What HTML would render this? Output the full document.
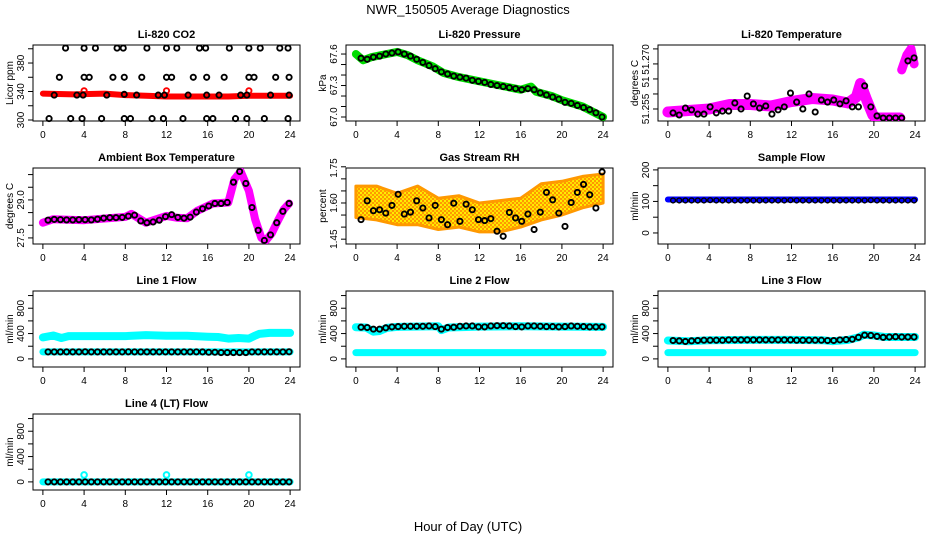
<!DOCTYPE html>
<html><head><meta charset="utf-8"><style>
html,body{margin:0;padding:0;background:#fff;}
svg{display:block;font-family:"Liberation Sans",sans-serif;}
</style></head><body>
<svg id="chart" width="936" height="540" viewBox="0 0 936 540">
<defs>
<pattern id="rhpat" width="4" height="4" patternUnits="userSpaceOnUse">
<rect width="4" height="4" fill="#ff9900"/><rect width="2" height="2" fill="#ffee00"/><rect x="2" y="2" width="2" height="2" fill="#ffdd00"/>
</pattern>
</defs>
<text x="468" y="14" text-anchor="middle" font-size="13">NWR_150505  Average Diagnostics</text>
<text x="468" y="531" text-anchor="middle" font-size="13">Hour of Day (UTC)</text>
</svg>
<script>
const xTicks=[0,4,8,12,16,20,24];
const circleHours=[0.5,1.1,1.7,2.3,2.9,3.5,4.1,4.7,5.3,5.9,6.5,7.1,7.7,8.3,8.9,9.5,10.1,10.7,11.3,11.9,12.5,13.1,13.7,14.3,14.9,15.5,16.1,16.7,17.3,17.9,18.5,19.1,19.7,20.3,20.9,21.5,22.1,22.7,23.3,23.9];

const co2BandHours=[0,3,6,8,10,12,15,18,20,24];
const co2BandValues=[337,336,337,335,334,333,333,333,334,334];
const co2Hours=[2.2,4,5.1,7.2,7.8,10.1,12,13,15.2,15.8,18.1,20,21.1,23,23.8,1.6,4,4.5,6.8,7.9,9.6,12,12.5,14.6,15.9,17.6,20,20.5,22.6,23.9,0.6,2.7,3.8,5.7,7.9,8.5,10.6,11.7,13.6,15.9,16.5,18.7,19.8,21.5,23.8,1.1,3.3,3.9,6.2,7.9,9.1,11.2,11.8,14.1,15.9,17.1,19.2,19.8,22.1,23.9];
const co2Values=[401,401,401,401,401,401,401,401,401,401,401,401,401,401,401,360,360,360,360,360,360,360,360,360,360,360,360,360,360,360,302,302,302,302,302,302,302,302,302,302,302,302,302,302,302,335,335,335,335,336,335,335,335,335,335,335,335,335,335,335];
const co2RedHours=[4,12,20];
const co2RedValues=[341,341,341];

const pressureBandHours=[0,0.7,1.5,3,4,5,6,7.5,8.5,10,12,14,16,17,17.5,19,20,22,24];
const pressureBandValues=[67.60,67.54,67.57,67.60,67.62,67.59,67.54,67.48,67.42,67.38,67.34,67.30,67.26,67.29,67.24,67.20,67.16,67.10,67.00];
const pressureCircles=[67.56,67.55,67.57,67.58,67.60,67.61,67.62,67.60,67.58,67.55,67.52,67.49,67.46,67.43,67.41,67.39,67.38,67.37,67.35,67.34,67.33,67.31,67.30,67.29,67.28,67.27,67.26,67.27,67.26,67.23,67.21,67.19,67.17,67.14,67.13,67.11,67.09,67.07,67.04,67.00];

const licorTempBandHours=[0,2,4,6,8,10,12,14,16,17.5,18.3,18.7,19.3,19.9,20.2,22.5];
const licorTempBandValues=[51.249,51.2495,51.250,51.2515,51.2515,51.251,51.2525,51.2535,51.253,51.252,51.254,51.2585,51.253,51.248,51.247,51.247];
const licorTempLateHours=[22.7,23.2,23.6,23.9];
const licorTempLateValues=[51.263,51.268,51.270,51.265];
const licorTempCircles=[51.2487,51.2480,51.2503,51.2497,51.2483,51.2483,51.2507,51.2487,51.2493,51.2493,51.2520,51.2500,51.2543,51.2517,51.2503,51.2510,51.2483,51.2497,51.2507,51.2553,51.2523,51.2500,51.2550,51.2490,51.2530,51.2523,51.2530,51.2517,51.2527,51.2507,51.2507,51.2577,51.2507,51.2477,51.2470,51.2470,51.2470,51.2470,51.2660,51.2670];

const ambientBandHours=[0,1,4,8,8.6,10,12,13,14,15,16.5,18,18.6,19.2,20,20.6,21.2,21.6,22.2,22.8,23.4,23.9];
const ambientBandValues=[28.10,28.24,28.20,28.33,28.45,28.10,28.37,28.30,28.28,28.57,28.86,28.90,29.82,30.12,29.36,28.24,27.51,27.38,27.67,28.17,28.63,28.86];
const ambientCircles=[28.20,28.23,28.22,28.21,28.21,28.22,28.22,28.21,28.24,28.28,28.30,28.30,28.31,28.36,28.40,28.17,28.10,28.13,28.20,28.34,28.42,28.31,28.28,28.32,28.52,28.65,28.76,28.86,28.86,28.90,29.70,30.12,29.65,28.70,27.80,27.40,27.62,28.10,28.55,28.86];

const rhBandHours=[0,2,4,6,8,10,12,14,16,18,20,22,24];
const rhUpper=[1.67,1.67,1.64,1.67,1.62,1.63,1.60,1.61,1.62,1.68,1.69,1.71,1.72];
const rhLower=[1.54,1.53,1.51,1.51,1.49,1.50,1.48,1.48,1.50,1.53,1.55,1.58,1.60];
const rhCircles=[1.531,1.609,1.568,1.572,1.558,1.590,1.636,1.554,1.562,1.609,1.579,1.538,1.590,1.531,1.510,1.599,1.524,1.595,1.572,1.531,1.527,1.535,1.483,1.462,1.561,1.538,1.524,1.554,1.490,1.562,1.644,1.613,1.558,1.503,1.602,1.644,1.677,1.634,1.579,1.729];

const sampleBandHours=[0,24];
const sampleBandValues=[106,106];
const sampleCircles=[103,103,103,103,103,103,104,103,103,103,103,103,103,103,103,103,103,103,103,104,103,103,103,103,103,103,103,103,103,103,103,103,104,103,103,103,103,103,103,103];

const line1CyanHours=[0,1,1.8,2.5,4,8,10,12,14,16,17,18,19,20,20.5,21,22,24];
const line1CyanValues=[340,370,330,360,360,360,375,365,365,350,345,320,330,320,360,395,410,410];
const line1CyanLowHours=[0,24];
const line1CyanLowValues=[110,110];
const line1Circles=[110,110,110,110,110,110,112,110,110,110,110,110,110,112,110,110,110,110,110,110,110,110,110,110,110,110,105,105,100,100,100,100,100,110,110,110,110,110,110,112];

const line2CyanHours=[0,1,1.7,2.3,3,4,8,8.3,9,12,16,20,24];
const line2CyanValues=[500,495,430,440,490,505,515,455,495,510,515,510,505];
const line2CyanLowHours=[0,24];
const line2CyanLowValues=[100,100];
const line2Circles=[500,495,470,470,490,505,510,515,515,515,515,520,510,470,495,500,515,520,520,505,505,520,525,525,520,510,505,520,520,515,510,510,505,510,520,515,510,505,505,505];

const line3CyanHours=[0,2,4,8,12,15,16,17.5,18.5,19,20,21,24];
const line3CyanValues=[290,280,295,300,300,295,280,300,340,380,370,345,345];
const line3CyanLowHours=[0,24];
const line3CyanLowValues=[100,100];
const line3Circles=[290,285,275,285,290,295,295,295,295,300,300,300,300,300,300,300,300,300,300,300,295,295,295,295,295,290,290,300,305,310,340,375,370,355,340,345,350,345,345,345];

const line4CyanHours=[0,24];
const line4CyanValues=[0,0];
const line4OutlierHours=[4,12,20];
const line4OutlierValues=[110,110,110];
const line4Circles=[0,0,0,0,0,0,0,0,0,0,0,0,0,0,0,0,0,0,0,0,0,0,0,0,0,0,0,0,0,0,0,0,0,0,0,0,0,0,0,0];

const flowTicks=[0,200,400,600,800,1000];
const flowLabels=[0,400,800];

const NS='http://www.w3.org/2000/svg';
const svg=document.getElementById('chart');
const colX=[33,346,658], rowY=[45,168,291,414], PW=267, PH=76;

function mk(tag,attrs,parent){const e=document.createElementNS(NS,tag);for(const k in attrs)e.setAttribute(k,attrs[k]);parent.appendChild(e);return e;}

function makePanel(col,row,title,ylab,ymin,ymax,yticks,ylabels,name){
  const x0=colX[col], y0=rowY[row];
  const g=mk('g',{},svg);
  
  
  const sx=h=>x0+(h+0.96)/25.92*PW;
  const sy=v=>y0+PH-(v-ymin)/(ymax-ymin)*PH;
  const t=mk('text',{x:x0+PW/2,y:y0-7,'text-anchor':'middle','font-size':11,'font-weight':'bold'},g);
  t.textContent=title;
  
  
  const box=mk('rect',{x:x0,y:y0,width:PW,height:PH,fill:'none',stroke:'#000','stroke-width':1},g);
  
  
  const xa=mk('g',{},g);
  
  
  xTicks.forEach(h=>{
    mk('line',{x1:sx(h),x2:sx(h),y1:y0+PH,y2:y0+PH+5,stroke:'#000'},xa);
    const l=mk('text',{x:sx(h),y:y0+PH+17,'text-anchor':'middle','font-size':10},xa);
    l.textContent=h;
  });
  const ya=mk('g',{},g);
  
  
  yticks.forEach(v=>{mk('line',{x1:x0-5,x2:x0,y1:sy(v),y2:sy(v),stroke:'#000'},ya);});
  ylabels.forEach(o=>{
    const yy=sy(o.v);
    const l=mk('text',{x:x0-9,y:yy,'text-anchor':'middle','font-size':10,transform:`rotate(-90 ${x0-9} ${yy})`},ya);
    l.textContent=o.t;
  });
  const yl=mk('text',{x:x0-20,y:y0+PH/2,'text-anchor':'middle','font-size':10,transform:`rotate(-90 ${x0-20} ${y0+PH/2})`},g);
  yl.textContent=ylab;
  
  
  const clip='clip-'+name;
  const cp=mk('clipPath',{id:clip},g);mk('rect',{x:x0,y:y0,width:PW,height:PH},cp);
  const plot=mk('g',{'clip-path':`url(#${clip})`},g);
  const pts=mk('g',{},g);
  return {g:plot,pg:pts,sx,sy,name};
}
function band(p,hours,vals,color,w,label){
  const pts=hours.map((h,i)=>p.sx(h).toFixed(1)+','+p.sy(vals[i]).toFixed(1)).join(' ');
  const e=mk('polyline',{points:pts,fill:'none',stroke:color,'stroke-width':w,'stroke-linejoin':'round','stroke-linecap':'round'},p.g);
  
  
}
function circles(p,hours,vals,color,label,r,sw){
  const gg=mk('g',{},p.pg);
  
  
  hours.forEach((h,i)=>{mk('circle',{cx:p.sx(h),cy:p.sy(vals[i]),r:r||2.6,fill:'none',stroke:color,'stroke-width':sw||1.9},gg);});
}

// CO2
let p=makePanel(0,0,'Li-820 CO2','Licor ppm',298.6,405.3,[300,320,340,360,380,400],[{v:300,t:'300'},{v:340,t:'340'},{v:380,t:'380'}],'co2');
band(p,co2BandHours,co2BandValues,'#ff0000',6,'licor-band');
circles(p,co2RedHours,co2RedValues,'#ff0000','red-points');
circles(p,co2Hours,co2Values,'#000','hourly-points');

// Pressure
p=makePanel(1,0,'Li-820 Pressure','kPa',66.962,67.686,[67.0,67.1,67.2,67.3,67.4,67.5,67.6],[{v:67.0,t:'67.0'},{v:67.3,t:'67.3'},{v:67.6,t:'67.6'}],'pressure');
band(p,pressureBandHours,pressureBandValues,'#00dd00',8,'pressure-band');
circles(p,circleHours,pressureCircles,'#000','hourly-points');

// Li-820 temperature
p=makePanel(2,0,'Li-820 Temperature','degrees C',51.246,51.2713,[51.25,51.255,51.26,51.265,51.27],[{v:51.25,t:'51.255'},{v:51.259,t:'51'},{v:51.2665,t:'51.270'}],'licor-temp');
band(p,licorTempBandHours,licorTempBandValues,'#ff00ff',11,'temp-band');
band(p,licorTempLateHours,licorTempLateValues,'#ff00ff',9,'temp-band-late');
circles(p,circleHours,licorTempCircles,'#000','hourly-points');

// Ambient
p=makePanel(0,1,'Ambient Box Temperature','degrees C',27.26,30.26,[27.5,28,28.5,29,29.5,30],[{v:27.5,t:'27.5'},{v:29,t:'29.0'}],'ambient-temp');
band(p,ambientBandHours,ambientBandValues,'#ff00ff',8,'temp-band');
circles(p,circleHours,ambientCircles,'#000','hourly-points');

// RH
p=makePanel(1,1,'Gas Stream RH','percent',1.43,1.745,[1.45,1.5,1.55,1.6,1.65,1.7,1.75],[{v:1.45,t:'1.45'},{v:1.6,t:'1.60'},{v:1.745,t:'1.75'}],'rh');
{const up=rhBandHours.map((h,i)=>p.sx(h).toFixed(1)+','+p.sy(rhUpper[i]).toFixed(1));
 const lo=rhBandHours.map((h,i)=>p.sx(h).toFixed(1)+','+p.sy(rhLower[i]).toFixed(1)).reverse();
 const e=mk('polygon',{points:up.concat(lo).join(' '),fill:'url(#rhpat)',stroke:'#ff9900','stroke-width':3,'stroke-linejoin':'round'},p.g);
 
 }
circles(p,circleHours,rhCircles,'#000','hourly-points');

// Sample flow
p=makePanel(2,1,'Sample Flow','ml/min',-35,206,[0,50,100,150,200],[{v:0,t:'0'},{v:100,t:'100'},{v:200,t:'200'}],'sample-flow');
band(p,sampleBandHours,sampleBandValues,'#0000ff',6,'flow-band');
circles(p,circleHours,sampleCircles,'#000','hourly-points',2.4,1.4);

const fl=flowLabels.map(v=>({v:v,t:String(v)}));
// Line 1
p=makePanel(0,2,'Line 1 Flow','ml/min',-128,1072,flowTicks,fl,'line1-flow');
band(p,line1CyanHours,line1CyanValues,'#00ffff',8,'cyan-high-band');
band(p,line1CyanLowHours,line1CyanLowValues,'#00ffff',7,'cyan-low-band');
circles(p,circleHours,line1Circles,'#000','hourly-points');
// Line 2
p=makePanel(1,2,'Line 2 Flow','ml/min',-128,1072,flowTicks,fl,'line2-flow');
band(p,line2CyanHours,line2CyanValues,'#00ffff',8,'cyan-high-band');
band(p,line2CyanLowHours,line2CyanLowValues,'#00ffff',7,'cyan-low-band');
circles(p,circleHours,line2Circles,'#000','hourly-points');
// Line 3
p=makePanel(2,2,'Line 3 Flow','ml/min',-128,1072,flowTicks,fl,'line3-flow');
band(p,line3CyanHours,line3CyanValues,'#00ffff',8,'cyan-high-band');
band(p,line3CyanLowHours,line3CyanLowValues,'#00ffff',7,'cyan-low-band');
circles(p,circleHours,line3Circles,'#000','hourly-points');
// Line 4
p=makePanel(0,3,'Line 4 (LT) Flow','ml/min',-128,1072,flowTicks,fl,'line4-flow');
band(p,line4CyanHours,line4CyanValues,'#00ffff',7,'cyan-band');
circles(p,line4OutlierHours,line4OutlierValues,'#00ffff','cyan-outliers',2.8,2);
circles(p,circleHours,line4Circles,'#000','hourly-points');
</script>
</body></html>
